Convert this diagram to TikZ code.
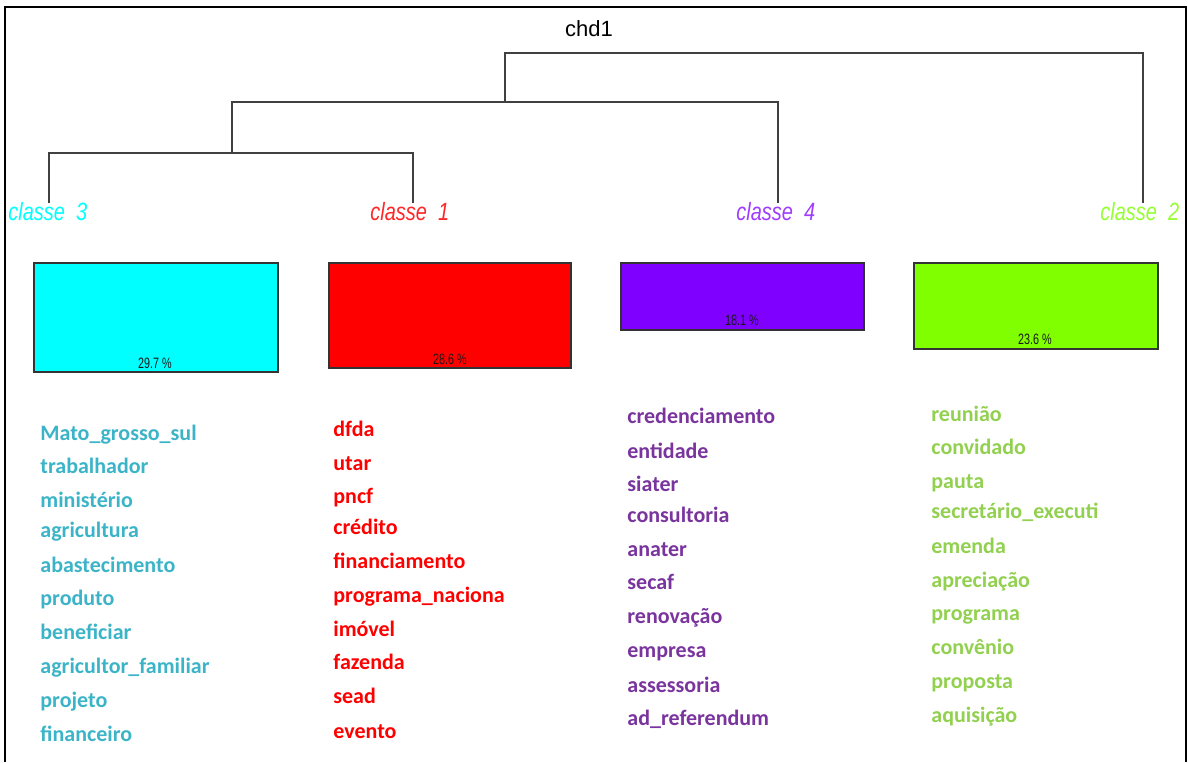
\documentclass[tikz,border=0pt]{standalone}
\usepackage{fontspec}
\setmainfont{Carlito}
\newfontfamily\arialf{Liberation Sans}
\definecolor{cLab3}{RGB}{0,255,255}
\definecolor{cLab1}{RGB}{255,40,40}
\definecolor{cLab4}{RGB}{160,60,255}
\definecolor{cLab2}{RGB}{150,255,50}
\definecolor{cBox3}{RGB}{0,255,255}
\definecolor{cBox1}{RGB}{255,0,0}
\definecolor{cBox4}{RGB}{128,0,255}
\definecolor{cBox2}{RGB}{128,255,0}
\definecolor{cW3}{RGB}{60,180,200}
\definecolor{cW1}{RGB}{255,0,0}
\definecolor{cW4}{RGB}{122,52,158}
\definecolor{cW2}{RGB}{146,208,80}
\begin{document}
\begin{tikzpicture}[x=0.5pt,y=-0.5pt,
  dend/.style={draw=black!75,line width=1.1pt},
  frame/.style={draw=black,line width=1.1pt},
  classlab/.style={font=\arialf\itshape\fontsize{12.5}{13}\selectfont,anchor=base west,inner sep=0pt},
  pctbox/.style={draw=black!80,line width=0.8pt},
  pct/.style={font=\arialf\fontsize{7.5}{8}\selectfont,anchor=base,inner sep=0pt,text=black!90},
  word/.style={font=\bfseries\fontsize{11}{12}\selectfont,anchor=base west,inner sep=0pt}]
\useasboundingbox (0,0) rectangle (1188,762);
% title
\node[font=\arialf\fontsize{11}{12}\selectfont,anchor=base,inner sep=0pt] (chd) at (589,36) {chd1};
% class labels
\node[classlab,text=cLab3] (l3) at (8,220) {\scalebox{0.8}[1]{classe\ \ 3}};
\node[classlab,text=cLab1] (l1) at (370,220) {\scalebox{0.8}[1]{classe\ \ 1}};
\node[classlab,text=cLab4] (l4) at (736,220) {\scalebox{0.8}[1]{classe\ \ 4}};
\node[classlab,text=cLab2] (l2) at (1100,220) {\scalebox{0.8}[1]{classe\ \ 2}};
% dendrogram
\coordinate (t3) at (49,203);
\coordinate (t1) at (413,203);
\coordinate (t4) at (778,203);
\coordinate (t2) at (1143,203);
\coordinate (j31) at (232,153);
\coordinate (j314) at (505,102);
\coordinate (root) at (505,53);
\draw[dend] (t3) |- (j31) -| (t1);
\draw[dend] (j31) |- (j314) -| (t4);
\draw[dend] (j314) -- (root) -| (t2);
% boxes
\draw[pctbox,fill=cBox3] (34,263) rectangle (278,372);
\node[pct] (p3) at (155,368) {\scalebox{0.72}[1]{29.7 \%}};
\draw[pctbox,fill=cBox1] (329,263) rectangle (571,368);
\node[pct] (p1) at (450,364) {\scalebox{0.72}[1]{28.6 \%}};
\draw[pctbox,fill=cBox4] (621,263) rectangle (864,330);
\node[pct] (p4) at (742,325) {\scalebox{0.72}[1]{18.1 \%}};
\draw[pctbox,fill=cBox2] (914,263) rectangle (1158,349);
\node[pct] (p2) at (1035,344) {\scalebox{0.72}[1]{23.6 \%}};
% word lists
\foreach \w/\y [count=\i] in {Mato\_grosso\_sul/440,trabalhador/473,ministério/507,agricultura/537,abastecimento/572,produto/605,beneficiar/639,agricultor\_familiar/673,projeto/707,financeiro/741}
  \node[word,text=cW3] (wa\i) at (40,\y) {\w};
\foreach \w/\y [count=\i] in {dfda/436,utar/470,pncf/503,crédito/534,financiamento/568,programa\_naciona/602,imóvel/636,fazenda/669,sead/703,evento/738}
  \node[word,text=cW1] (wb\i) at (333,\y) {\w};
\foreach \w/\y [count=\i] in {credenciamento/423,entidade/458,siater/491,consultoria/522,anater/556,secaf/589,renovação/623,empresa/657,assessoria/692,ad\_referendum/725}
  \node[word,text=cW4] (wc\i) at (627,\y) {\w};
\foreach \w/\y [count=\i] in {reunião/421,convidado/454,pauta/488,secretário\_executi/518,emenda/553,apreciação/587,programa/620,convênio/654,proposta/688,aquisição/722}
  \node[word,text=cW2] (wd\i) at (931,\y) {\w};
% frame
\draw[frame] (5,762) -- (5,7) -- (1186,7) -- (1186,762);
\end{tikzpicture}
\end{document}
